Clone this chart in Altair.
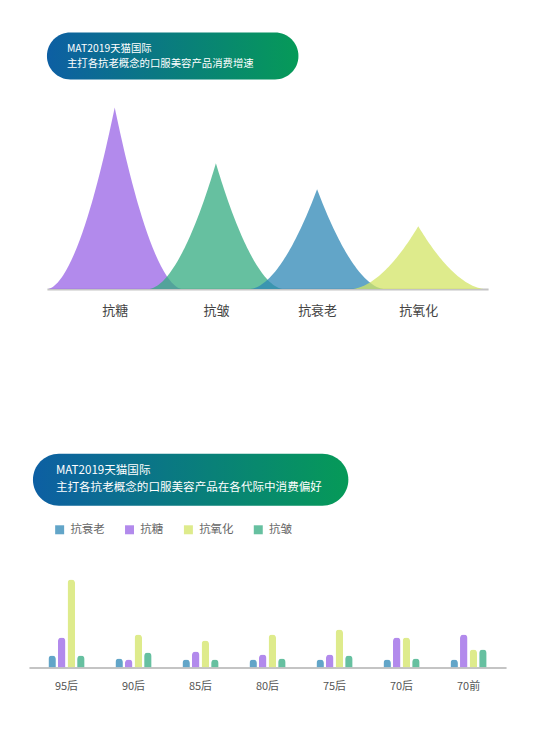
import json
import altair as alt
import pandas as pd

FONT = "Noto Sans CJK SC"

# ---------- top chart data ----------
peak_cats = ["抗糖", "抗皱", "抗衰老", "抗氧化"]
peak_vals = [182, 126, 100, 63]
peak_colors = ["#9863e6", "#33ab80", "#2e87b6", "#d3e466"]

title1 = ["MAT2019天猫国际", "主打各抗老概念的口服美容产品消费增速"]
title2 = ["MAT2019天猫国际", "主打各抗老概念的口服美容产品在各代际中消费偏好"]

# ---------- bottom chart data ----------
gens = ["95后", "90后", "85后", "80后", "75后", "70后", "70前"]
series = ["抗衰老", "抗糖", "抗氧化", "抗皱"]
v_shuailao = [12, 9, 8, 8, 8, 8, 8]
v_tang = [30, 8, 16, 13, 13, 30, 33]
v_yanghua = [88, 33, 27, 33, 38, 30, 18]
v_zhou = [12, 15, 8, 9, 12, 9, 18]
bar_colors = ["#62a5c8", "#b28aec", "#deeb8c", "#66c0a0"]

grad = alt.LinearGradient(
    gradient="linear", x1=0, y1=0, x2=1, y2=0,
    stops=[alt.GradientStop(color="#0d5fa3", offset=0),
           alt.GradientStop(color="#069a58", offset=1)],
)
one = pd.DataFrame({"k": [0]})

# ---------- top chart ----------
peak_df = pd.DataFrame({"cat": peak_cats, "val": peak_vals, "idx": list(range(len(peak_cats)))})
label_expr = json.dumps(peak_cats, ensure_ascii=False) + "[datum.value]"

area = alt.Chart(peak_df).transform_calculate(
    s="sequence(-1, 1.0001, 0.02)"
).transform_flatten(["s"]).transform_calculate(
    px="datum.idx + datum.s * 0.67",
    py="datum.val * pow(max(0, 1 - abs(datum.s)), 1.8)",
).mark_area(opacity=0.75, interpolate="linear").encode(
    x=alt.X("px:Q", title=None,
            scale=alt.Scale(domain=[-0.67, 3.69], range=[39, 481], nice=False, zero=False),
            axis=alt.Axis(values=[0, 1, 2, 3], labelExpr=label_expr, grid=False, ticks=False,
                          tickSize=0, labelPadding=15, labelFontSize=13, labelColor="#444",
                          labelFont=FONT, domainColor="#c4c4c4", domainWidth=2,
                          labelBaseline="top")),
    y=alt.Y("py:Q", stack=None, scale=alt.Scale(domain=[0, 281], nice=False), axis=None),
    color=alt.Color("cat:N", scale=alt.Scale(domain=peak_cats, range=peak_colors), legend=None),
    detail="cat:N",
)

badge1 = alt.Chart(one).mark_rect(color=grad, cornerRadius=23.5).encode(
    x=alt.value(39), x2=alt.value(291), y=alt.value(24), y2=alt.value(71)
)
t1a = alt.Chart(one).mark_text(align="left", baseline="middle", color="white",
                               fontSize=10.4, font=FONT).encode(
    x=alt.value(59), y=alt.value(40), text=alt.value(title1[0]))
t1b = alt.Chart(one).mark_text(align="left", baseline="middle", color="white",
                               fontSize=10.4, font=FONT).encode(
    x=alt.value(59), y=alt.value(55), text=alt.value(title1[1]))

top = alt.layer(area, badge1, t1a, t1b).properties(width=530, height=281)

# ---------- bottom chart ----------
rows = []
for i, g in enumerate(gens):
    for s, vals in zip(series, [v_shuailao, v_tang, v_yanghua, v_zhou]):
        rows.append({"gen": g, "series": s, "val": vals[i]})
bar_df = pd.DataFrame(rows)

bars = alt.Chart(bar_df).mark_bar(cornerRadiusTopLeft=3.5, cornerRadiusTopRight=3.5).encode(
    x=alt.X("gen:N", sort=gens, title=None,
            scale=alt.Scale(range=[21, 499], paddingInner=0.46, paddingOuter=0.29),
            axis=alt.Axis(labelAngle=0, ticks=False, tickSize=0, labelPadding=13,
                          labelFontSize=11, labelColor="#555", labelFont=FONT,
                          domainColor="#c4c4c4", domainWidth=2, labelBaseline="top")),
    xOffset=alt.XOffset("series:N", sort=series,
                        scale=alt.Scale(paddingInner=0.22, paddingOuter=0)),
    y=alt.Y("val:Q", scale=alt.Scale(domain=[0, 226], nice=False), axis=None),
    color=alt.Color("series:N", sort=series, title=None,
                    scale=alt.Scale(domain=series, range=bar_colors),
                    legend=alt.Legend(orient="none", legendX=46, legendY=82,
                                      direction="horizontal", columns=4,
                                      symbolType="square", symbolSize=81,
                                      symbolStrokeWidth=0, labelFontSize=11.5,
                                      labelColor="#666", labelFont=FONT,
                                      columnPadding=19, labelOffset=5, padding=0)),
)

badge2 = alt.Chart(one).mark_rect(color=grad, cornerRadius=26).encode(
    x=alt.value(25), x2=alt.value(341), y=alt.value(12), y2=alt.value(64)
)
t2a = alt.Chart(one).mark_text(align="left", baseline="middle", color="white",
                               fontSize=11.6, font=FONT).encode(
    x=alt.value(48), y=alt.value(29), text=alt.value(title2[0]))
t2b = alt.Chart(one).mark_text(align="left", baseline="middle", color="white",
                               fontSize=11.6, font=FONT).encode(
    x=alt.value(48), y=alt.value(46), text=alt.value(title2[1]))

bottom = alt.layer(bars, badge2, t2a, t2b).properties(width=530, height=226)

chart = alt.vconcat(top, bottom, spacing=125).resolve_scale(
    color="independent", x="independent", y="independent"
).properties(padding=0, background="white").configure_view(stroke=None)

chart.save("out.html", embed_options={"renderer": "svg", "actions": False})
